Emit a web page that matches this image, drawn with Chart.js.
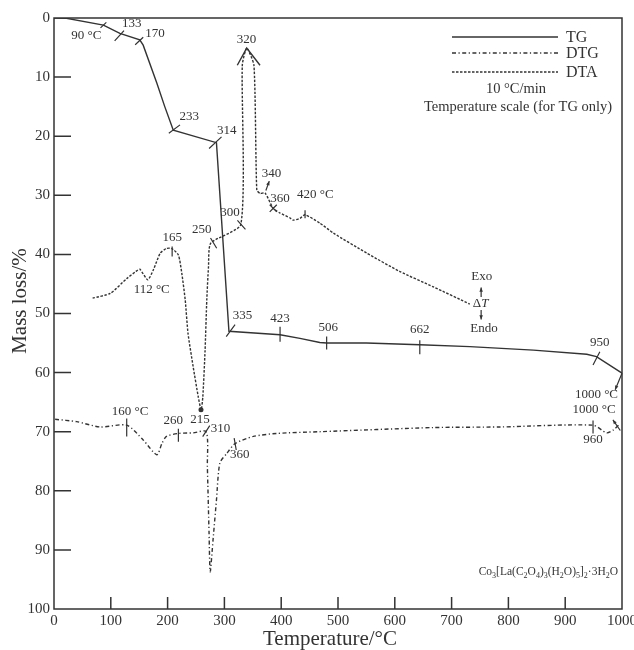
<!DOCTYPE html>
<html lang="en">
<head>
  <meta charset="UTF-8">
  <title>TG / DTG / DTA - Co3[La(C2O4)3(H2O)5]2·3H2O</title>
  <script src="https://cdn.jsdelivr.net/npm/chart.js"></script>
  <style>
    html, body { margin: 0; padding: 0; background: #fff; }
    #wrap { position: relative; width: 634px; height: 650px; }
  </style>
</head>
<body>
<div id="wrap"><canvas id="chartTG"></canvas></div>

<script>
  // axis ticks
  const xTicks = [0, 100, 200, 300, 400, 500, 600, 700, 800, 900, 1000];
  const yTicks = [0, 10, 20, 30, 40, 50, 60, 70, 80, 90, 100];

  // TG curve: temperature (°C) / mass loss (%)
  const tgTemp = [0, 22, 87, 116, 151, 157, 181, 195, 210, 286, 308, 398, 433, 468, 480, 550, 644, 732, 844, 938, 955, 1000];
  const tgLoss = [0, 0.05, 1.2, 2.6, 3.7, 4.6, 11.0, 15.0, 19.0, 21.1, 53.0, 53.6, 54.2, 54.9, 55.0, 55.0, 55.3, 55.6, 56.2, 56.9, 57.3, 60.1];

  // DTA curve (read on the same frame)
  const dtaTemp = [68, 99, 128, 144, 151, 165, 175, 187, 198, 207, 219, 225, 231, 236, 245, 254, 259, 262, 266, 269, 272, 276,
                   329, 331.5, 339.3, 352, 357, 363, 371.5, 386, 398, 415, 421, 433, 442, 468, 492, 551, 609, 668, 732];
  const dtaVal  = [47.4, 46.6, 44.1, 42.9, 42.5, 44.3, 42.6, 39.8, 39.0, 39.0, 40.1, 43.2, 47.7, 53.4, 59.0, 64.1, 66.3, 64.1, 56.2, 47.7, 42.1, 38.1,
                   34.9, 8.0, 5.1, 8.0, 29.1, 29.7, 29.6, 32.2, 33.0, 33.8, 34.2, 33.9, 33.3, 34.7, 36.4, 39.8, 42.9, 45.5, 48.4];

  // DTG curve
  const dtgTemp = [2, 40, 81, 128, 157, 181, 190, 198, 219, 245, 268, 270, 273, 275, 280, 286, 292, 304, 319, 351, 392, 468, 668, 785, 949, 973, 985, 994];
  const dtgVal  = [67.9, 68.3, 69.2, 68.9, 71.4, 73.9, 72.0, 70.8, 70.3, 70.2, 70.0, 75.9, 87.2, 93.7, 88.3, 81.6, 75.3, 73.7, 72.0, 70.8, 70.3, 70.0, 69.3, 69.2, 68.9, 70.2, 69.7, 68.9];

  // annotation texts: [text, temperature, mass loss]
  const notes = [
    ['90 °C', 57, 3.0], ['133', 137, 1.0], ['170', 178, 2.6], ['233', 238, 16.7], ['314', 304, 19.0],
    ['320', 339, 3.6], ['340', 383, 26.3], ['360', 398, 30.5], ['420 °C', 460, 29.8], ['300', 310, 33.0],
    ['250', 260, 35.8], ['165', 208, 37.2], ['112 °C', 172, 46.0], ['335', 332, 50.4], ['423', 398, 50.9],
    ['506', 483, 52.4], ['662', 644, 52.7], ['950', 961, 54.9], ['1000 °C', 955, 63.8], ['1000 °C', 951, 66.3],
    ['960', 949, 71.4], ['215', 257, 68.0], ['160 °C', 134, 66.6], ['260', 210, 68.2], ['310', 293, 69.4],
    ['360', 327, 73.9], ['Exo', 753, 43.8], ['Endo', 757, 52.5]
  ];

  // short marks crossing the curves: [temperature, value, angle (deg), length px]
  const marks = [
    [87, 1.2, -43, 8], [115, 3.0, -48, 14], [150, 3.9, -43, 11], [212, 18.8, -37, 14], [284, 21.1, -43, 17],
    [311, 52.9, -54, 15], [398, 53.5, 90, 15], [480, 55.0, 90, 13], [644, 55.7, 90, 14], [955, 57.6, -63, 15],
    [208, 39.5, 90, 10], [281, 38.1, 59, 12], [330, 35.0, 48, 12], [386, 32.2, 45, 10], [386, 32.2, -45, 10],
    [442, 33.2, 90, 8], [128, 69.3, 90, 18], [219, 70.6, 90, 13], [268, 69.9, -57, 13], [319, 72.1, 80, 12],
    [949, 69.2, 90, 13]
  ];

  // small arrows: [from T, from v, to T, to v]
  const arrows = [
    [373, 29.2, 379, 27.6], [1000, 60.1, 988, 62.9], [997, 69.8, 984, 68.0],
    [752, 47.2, 752, 45.6], [752, 49.4, 752, 51.0]
  ];

  const INK = '#333';
  const SERIF = "'Liberation Serif', 'Times New Roman', serif";
  Chart.defaults.font.family = SERIF;
  Chart.defaults.color = INK;

  const pts = (xs, ys) => xs.map((t, i) => ({ x: t, y: ys[i] }));

  function arrowLine(ctx, x1, y1, x2, y2, head) {
    const ang = Math.atan2(y2 - y1, x2 - x1);
    ctx.beginPath();
    ctx.moveTo(x1, y1);
    ctx.lineTo(x2, y2);
    ctx.stroke();
    ctx.beginPath();
    ctx.moveTo(x2, y2);
    ctx.lineTo(x2 - head * Math.cos(ang - 0.4), y2 - head * Math.sin(ang - 0.4));
    ctx.lineTo(x2 - head * Math.cos(ang + 0.4), y2 - head * Math.sin(ang + 0.4));
    ctx.closePath();
    ctx.fill();
  }

  // all the extra drawing: frame, inner ticks, notes, legend
  const decor = {
    id: 'decor',
    afterDatasetsDraw(chart) {
      const { ctx, chartArea: a, scales: { x, y } } = chart;
      const P = (t, v) => [x.getPixelForValue(t), y.getPixelForValue(v)];
      ctx.save();
      ctx.strokeStyle = INK;
      ctx.fillStyle = INK;

      // frame
      ctx.lineWidth = 1.5;
      ctx.strokeRect(a.left, a.top, a.right - a.left, a.bottom - a.top);

      // inner ticks
      ctx.beginPath();
      yTicks.forEach(v => {
        if (v > 0 && v < 100) {
          const py = y.getPixelForValue(v);
          ctx.moveTo(a.left, py); ctx.lineTo(a.left + 17, py);
        }
      });
      xTicks.forEach(v => {
        if (v > 0 && v < 1000) {
          const px = x.getPixelForValue(v);
          ctx.moveTo(px, a.bottom); ctx.lineTo(px, a.bottom - 12);
        }
      });
      ctx.stroke();

      // marks on curves
      ctx.lineWidth = 1.2;
      ctx.beginPath();
      marks.forEach(([t, v, deg, len]) => {
        const [cx, cy] = P(t, v);
        const r = deg * Math.PI / 180;
        const dx = Math.cos(r) * len / 2, dy = Math.sin(r) * len / 2;
        ctx.moveTo(cx - dx, cy - dy); ctx.lineTo(cx + dx, cy + dy);
      });
      ctx.stroke();

      arrows.forEach(([t1, v1, t2, v2]) => {
        const [x1, y1] = P(t1, v1), [x2, y2] = P(t2, v2);
        arrowLine(ctx, x1, y1, x2, y2, 4.5);
      });

      // peak head of DTA at 320
      const [ax, ay] = P(339.3, 5.1), [lx, ly] = P(322.7, 8.0), [rx, ry] = P(362.7, 8.0);
      ctx.lineWidth = 1.4;
      ctx.beginPath();
      ctx.moveTo(lx, ly); ctx.lineTo(ax, ay); ctx.lineTo(rx, ry);
      ctx.stroke();

      // dot at 215
      const [dx0, dy0] = P(258.8, 66.3);
      ctx.beginPath(); ctx.arc(dx0, dy0, 2.5, 0, Math.PI * 2); ctx.fill();

      // annotation text
      ctx.font = '13px ' + SERIF;
      ctx.textAlign = 'center';
      ctx.textBaseline = 'middle';
      notes.forEach(([txt, t, v]) => {
        const [px, py] = P(t, v);
        ctx.fillText(txt, px, py);
      });

      // ΔT with italic T
      const [tx, ty] = P(751, 48.3);
      ctx.font = '13px ' + SERIF;
      const wD = ctx.measureText('Δ').width;
      ctx.font = 'italic 13px ' + SERIF;
      const wT = ctx.measureText('T').width;
      ctx.textAlign = 'left';
      ctx.font = '13px ' + SERIF;
      ctx.fillText('Δ', tx - (wD + wT) / 2, ty);
      ctx.font = 'italic 13px ' + SERIF;
      ctx.fillText('T', tx - (wD + wT) / 2 + wD, ty);

      // legend
      const rows = [a.top + 19, a.top + 35, a.top + 54];
      chart.data.datasets.forEach((ds, i) => {
        ctx.setLineDash(ds.borderDash || []);
        ctx.lineWidth = ds.borderWidth;
        ctx.beginPath();
        ctx.moveTo(a.right - 170, rows[i]); ctx.lineTo(a.right - 64, rows[i]);
        ctx.stroke();
        ctx.setLineDash([]);
        ctx.font = '16px ' + SERIF;
        ctx.textAlign = 'left';
        ctx.fillText(ds.label, a.right - 56, rows[i] + 1);
      });
      ctx.font = '14.5px ' + SERIF;
      ctx.textAlign = 'center';
      ctx.fillText('10 °C/min', a.right - 106, a.top + 71);
      ctx.fillText('Temperature scale (for TG only)', a.right - 104, a.top + 89);

      // compound formula, bottom right
      const runs = [['Co', 0], ['3', 1], ['[La(C', 0], ['2', 1], ['O', 0], ['4', 1], [')', 0], ['3', 1], ['(H', 0], ['2', 1],
                    ['O)', 0], ['5', 1], [']', 0], ['2', 1], ['·3H', 0], ['2', 1], ['O', 0]];
      const fBig = '11.5px ' + SERIF, fSub = '8px ' + SERIF;
      let w = 0;
      runs.forEach(([s, sub]) => { ctx.font = sub ? fSub : fBig; w += ctx.measureText(s).width; });
      let fx = a.right - 4 - w;
      const fy = a.top + 557;
      ctx.textAlign = 'left';
      ctx.textBaseline = 'alphabetic';
      runs.forEach(([s, sub]) => {
        ctx.font = sub ? fSub : fBig;
        ctx.fillText(s, fx, sub ? fy + 3 : fy);
        fx += ctx.measureText(s).width;
      });

      // axis titles
      ctx.font = '21px ' + SERIF;
      ctx.textAlign = 'center';
      ctx.textBaseline = 'middle';
      ctx.fillText('Temperature/°C', 330, 639);
      ctx.translate(20, 301);
      ctx.rotate(-Math.PI / 2);
      ctx.fillText('Mass loss/%', 0, 0);
      ctx.restore();
    }
  };

  const ctx = document.getElementById('chartTG').getContext('2d');
  new Chart(ctx, {
    type: 'line',
    data: {
      datasets: [
        { label: 'TG', data: pts(tgTemp, tgLoss), borderColor: INK, borderWidth: 1.4, tension: 0 },
        { label: 'DTG', data: pts(dtgTemp, dtgVal), borderColor: INK, borderWidth: 1.4, borderDash: [4, 2.5, 1.2, 2.5], tension: 0.25 },
        { label: 'DTA', data: pts(dtaTemp, dtaVal), borderColor: INK, borderWidth: 1.4, borderDash: [2.5, 1.5], tension: 0.2 }
      ]
    },
    options: {
      responsive: true,
      maintainAspectRatio: false,
      animation: false,
      layout: { padding: { top: 18, right: 12, left: 0, bottom: 0 } },
      elements: { point: { radius: 0 } },
      plugins: { legend: { display: false }, tooltip: { enabled: false } },
      scales: {
        x: {
          type: 'linear',
          min: 0, max: 1000,
          afterBuildTicks: s => { s.ticks = xTicks.map(v => ({ value: v })); },
          afterFit: s => { s.height = 41; s.paddingLeft = 0; s.paddingRight = 0; },
          grid: { display: false, drawTicks: false },
          border: { display: false },
          ticks: { font: { size: 15 }, color: INK, padding: 3, maxRotation: 0, callback: v => String(v) }
        },
        y: {
          type: 'linear',
          reverse: true,
          min: 0, max: 100,
          afterBuildTicks: s => { s.ticks = yTicks.map(v => ({ value: v })); },
          afterFit: s => { s.width = 54; s.paddingTop = 0; s.paddingBottom = 0; },
          grid: { display: false, drawTicks: false },
          border: { display: false },
          ticks: { font: { size: 15 }, color: INK, padding: 4, callback: v => String(v) }
        }
      }
    },
    plugins: [decor]
  });
</script>
</body>
</html>
